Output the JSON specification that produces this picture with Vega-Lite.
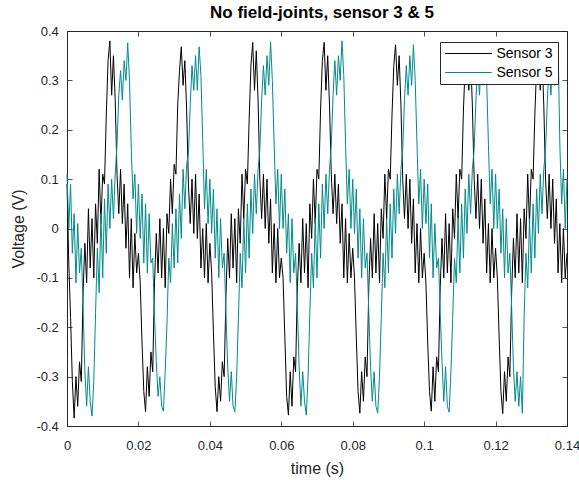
{
"$schema": "https://vega.github.io/schema/vega-lite/v6.json",
"width": 500, "height": 395,
"autosize": {"type": "none"},
"padding": {"left": 67, "top": 31, "right": 12, "bottom": 54},
"background": "white",
"title": {"text": "No field-joints, sensor 3 & 5", "fontSize": 17, "fontWeight": "bold", "font": "Liberation Sans", "color": "#000000", "anchor": "middle", "baseline": "alphabetic", "offset": 8, "dx": 5, "dy": 18},
"data": {"values": [
{"t":0,"s3":0.09,"s5":0.11},
{"t":0.0005,"s3":-0.07,"s5":0.00},
{"t":0.001,"s3":-0.18,"s5":0.09},
{"t":0.0015,"s3":-0.31,"s5":-0.05},
{"t":0.002,"s3":-0.384,"s5":0.03},
{"t":0.0025,"s3":-0.30,"s5":-0.11},
{"t":0.003,"s3":-0.36,"s5":0.01},
{"t":0.0035,"s3":-0.27,"s5":-0.09},
{"t":0.004,"s3":-0.31,"s5":-0.04},
{"t":0.0045,"s3":-0.13,"s5":-0.16},
{"t":0.005,"s3":-0.03,"s5":-0.29},
{"t":0.0055,"s3":-0.11,"s5":-0.36},
{"t":0.006,"s3":0.04,"s5":-0.28},
{"t":0.0065,"s3":-0.08,"s5":-0.35},
{"t":0.007,"s3":0.02,"s5":-0.38},
{"t":0.0075,"s3":-0.10,"s5":-0.31},
{"t":0.008,"s3":0.05,"s5":-0.17},
{"t":0.0085,"s3":-0.03,"s5":-0.04},
{"t":0.009,"s3":0.12,"s5":-0.13},
{"t":0.0095,"s3":0.01,"s5":0.03},
{"t":0.01,"s3":0.11,"s5":-0.10},
{"t":0.0105,"s3":0.09,"s5":0.06},
{"t":0.011,"s3":0.23,"s5":-0.05},
{"t":0.0115,"s3":0.34,"s5":0.09},
{"t":0.012,"s3":0.38,"s5":0.00},
{"t":0.0125,"s3":0.27,"s5":0.10},
{"t":0.013,"s3":0.35,"s5":0.02},
{"t":0.0135,"s3":0.26,"s5":0.11},
{"t":0.014,"s3":0.11,"s5":0.17},
{"t":0.0145,"s3":0.03,"s5":0.27},
{"t":0.015,"s3":0.12,"s5":0.32},
{"t":0.0155,"s3":0.01,"s5":0.26},
{"t":0.016,"s3":0.09,"s5":0.34},
{"t":0.0165,"s3":-0.04,"s5":0.30},
{"t":0.017,"s3":0.05,"s5":0.376},
{"t":0.0175,"s3":-0.10,"s5":0.30},
{"t":0.018,"s3":0.02,"s5":0.16},
{"t":0.0185,"s3":-0.12,"s5":0.06},
{"t":0.019,"s3":-0.01,"s5":0.11},
{"t":0.0195,"s3":-0.09,"s5":-0.01},
{"t":0.02,"s3":-0.05,"s5":0.09},
{"t":0.0205,"s3":-0.11,"s5":-0.02},
{"t":0.021,"s3":-0.23,"s5":0.07},
{"t":0.0215,"s3":-0.33,"s5":-0.07},
{"t":0.022,"s3":-0.371,"s5":0.05},
{"t":0.0225,"s3":-0.28,"s5":-0.09},
{"t":0.023,"s3":-0.34,"s5":0.03},
{"t":0.0235,"s3":-0.25,"s5":-0.07},
{"t":0.024,"s3":-0.29,"s5":-0.06},
{"t":0.0245,"s3":-0.11,"s5":-0.18},
{"t":0.025,"s3":-0.01,"s5":-0.27},
{"t":0.0255,"s3":-0.09,"s5":-0.34},
{"t":0.026,"s3":0.02,"s5":-0.30},
{"t":0.0265,"s3":-0.10,"s5":-0.36},
{"t":0.027,"s3":0.00,"s5":-0.37},
{"t":0.0275,"s3":-0.12,"s5":-0.29},
{"t":0.028,"s3":0.03,"s5":-0.19},
{"t":0.0285,"s3":-0.01,"s5":-0.06},
{"t":0.029,"s3":0.10,"s5":-0.11},
{"t":0.0295,"s3":0.03,"s5":0.01},
{"t":0.03,"s3":0.13,"s5":-0.08},
{"t":0.0305,"s3":0.11,"s5":0.04},
{"t":0.031,"s3":0.25,"s5":-0.07},
{"t":0.0315,"s3":0.32,"s5":0.07},
{"t":0.032,"s3":0.368,"s5":-0.02},
{"t":0.0325,"s3":0.29,"s5":0.12},
{"t":0.033,"s3":0.34,"s5":0.04},
{"t":0.0335,"s3":0.24,"s5":0.13},
{"t":0.034,"s3":0.09,"s5":0.15},
{"t":0.0345,"s3":0.01,"s5":0.25},
{"t":0.035,"s3":0.10,"s5":0.33},
{"t":0.0355,"s3":-0.01,"s5":0.28},
{"t":0.036,"s3":0.11,"s5":0.35},
{"t":0.0365,"s3":-0.02,"s5":0.28},
{"t":0.037,"s3":0.07,"s5":0.368},
{"t":0.0375,"s3":-0.08,"s5":0.31},
{"t":0.038,"s3":0.00,"s5":0.18},
{"t":0.0385,"s3":-0.10,"s5":0.04},
{"t":0.039,"s3":0.01,"s5":0.12},
{"t":0.0395,"s3":-0.11,"s5":0.01},
{"t":0.04,"s3":-0.03,"s5":0.10},
{"t":0.0405,"s3":-0.09,"s5":-0.01},
{"t":0.041,"s3":-0.21,"s5":0.08},
{"t":0.0415,"s3":-0.32,"s5":-0.06},
{"t":0.042,"s3":-0.371,"s5":0.04},
{"t":0.0425,"s3":-0.30,"s5":-0.10},
{"t":0.043,"s3":-0.35,"s5":0.02},
{"t":0.0435,"s3":-0.27,"s5":-0.08},
{"t":0.044,"s3":-0.30,"s5":-0.05},
{"t":0.0445,"s3":-0.14,"s5":-0.17},
{"t":0.045,"s3":-0.02,"s5":-0.28},
{"t":0.0455,"s3":-0.10,"s5":-0.35},
{"t":0.046,"s3":0.03,"s5":-0.29},
{"t":0.0465,"s3":-0.08,"s5":-0.36},
{"t":0.047,"s3":0.02,"s5":-0.371},
{"t":0.0475,"s3":-0.11,"s5":-0.30},
{"t":0.048,"s3":0.04,"s5":-0.18},
{"t":0.0485,"s3":-0.03,"s5":-0.05},
{"t":0.049,"s3":0.11,"s5":-0.12},
{"t":0.0495,"s3":0.02,"s5":0.02},
{"t":0.05,"s3":0.12,"s5":-0.09},
{"t":0.0505,"s3":0.09,"s5":0.05},
{"t":0.051,"s3":0.22,"s5":-0.06},
{"t":0.0515,"s3":0.33,"s5":0.08},
{"t":0.052,"s3":0.377,"s5":-0.01},
{"t":0.0525,"s3":0.28,"s5":0.11},
{"t":0.053,"s3":0.36,"s5":0.03},
{"t":0.0535,"s3":0.26,"s5":0.12},
{"t":0.054,"s3":0.10,"s5":0.16},
{"t":0.0545,"s3":0.02,"s5":0.26},
{"t":0.055,"s3":0.11,"s5":0.33},
{"t":0.0555,"s3":0.00,"s5":0.27},
{"t":0.056,"s3":0.10,"s5":0.35},
{"t":0.0565,"s3":-0.03,"s5":0.29},
{"t":0.057,"s3":0.06,"s5":0.378},
{"t":0.0575,"s3":-0.09,"s5":0.30},
{"t":0.058,"s3":0.01,"s5":0.17},
{"t":0.0585,"s3":-0.11,"s5":0.05},
{"t":0.059,"s3":0.00,"s5":0.12},
{"t":0.0595,"s3":-0.10,"s5":0.00},
{"t":0.06,"s3":-0.06,"s5":0.11},
{"t":0.0605,"s3":-0.10,"s5":0.00},
{"t":0.061,"s3":-0.22,"s5":0.08},
{"t":0.0615,"s3":-0.34,"s5":-0.05},
{"t":0.062,"s3":-0.378,"s5":0.03},
{"t":0.0625,"s3":-0.29,"s5":-0.11},
{"t":0.063,"s3":-0.36,"s5":0.02},
{"t":0.0635,"s3":-0.26,"s5":-0.09},
{"t":0.064,"s3":-0.29,"s5":-0.05},
{"t":0.0645,"s3":-0.12,"s5":-0.16},
{"t":0.065,"s3":-0.03,"s5":-0.28},
{"t":0.0655,"s3":-0.11,"s5":-0.36},
{"t":0.066,"s3":0.02,"s5":-0.29},
{"t":0.0665,"s3":-0.09,"s5":-0.35},
{"t":0.067,"s3":0.01,"s5":-0.378},
{"t":0.0675,"s3":-0.12,"s5":-0.30},
{"t":0.068,"s3":0.05,"s5":-0.17},
{"t":0.0685,"s3":-0.02,"s5":-0.05},
{"t":0.069,"s3":0.10,"s5":-0.12},
{"t":0.0695,"s3":0.01,"s5":0.02},
{"t":0.07,"s3":0.12,"s5":-0.10},
{"t":0.0705,"s3":0.10,"s5":0.05},
{"t":0.071,"s3":0.24,"s5":-0.06},
{"t":0.0715,"s3":0.34,"s5":0.09},
{"t":0.072,"s3":0.377,"s5":0.00},
{"t":0.0725,"s3":0.28,"s5":0.11},
{"t":0.073,"s3":0.35,"s5":0.03},
{"t":0.0735,"s3":0.25,"s5":0.12},
{"t":0.074,"s3":0.11,"s5":0.17},
{"t":0.0745,"s3":0.03,"s5":0.27},
{"t":0.075,"s3":0.11,"s5":0.34},
{"t":0.0755,"s3":0.01,"s5":0.27},
{"t":0.076,"s3":0.09,"s5":0.35},
{"t":0.0765,"s3":-0.03,"s5":0.30},
{"t":0.077,"s3":0.05,"s5":0.38},
{"t":0.0775,"s3":-0.10,"s5":0.31},
{"t":0.078,"s3":0.02,"s5":0.17},
{"t":0.0785,"s3":-0.11,"s5":0.05},
{"t":0.079,"s3":-0.01,"s5":0.12},
{"t":0.0795,"s3":-0.10,"s5":0.00},
{"t":0.08,"s3":-0.04,"s5":0.10},
{"t":0.0805,"s3":-0.10,"s5":-0.01},
{"t":0.081,"s3":-0.22,"s5":0.08},
{"t":0.0815,"s3":-0.33,"s5":-0.06},
{"t":0.082,"s3":-0.374,"s5":0.04},
{"t":0.0825,"s3":-0.29,"s5":-0.10},
{"t":0.083,"s3":-0.35,"s5":0.02},
{"t":0.0835,"s3":-0.26,"s5":-0.08},
{"t":0.084,"s3":-0.30,"s5":-0.05},
{"t":0.0845,"s3":-0.12,"s5":-0.17},
{"t":0.085,"s3":-0.02,"s5":-0.28},
{"t":0.0855,"s3":-0.10,"s5":-0.35},
{"t":0.086,"s3":0.03,"s5":-0.29},
{"t":0.0865,"s3":-0.09,"s5":-0.36},
{"t":0.087,"s3":0.01,"s5":-0.374},
{"t":0.0875,"s3":-0.11,"s5":-0.30},
{"t":0.088,"s3":0.04,"s5":-0.18},
{"t":0.0885,"s3":-0.02,"s5":-0.05},
{"t":0.089,"s3":0.11,"s5":-0.12},
{"t":0.0895,"s3":0.02,"s5":0.02},
{"t":0.09,"s3":0.12,"s5":-0.09},
{"t":0.0905,"s3":0.10,"s5":0.05},
{"t":0.091,"s3":0.23,"s5":-0.06},
{"t":0.0915,"s3":0.33,"s5":0.08},
{"t":0.092,"s3":0.372,"s5":-0.01},
{"t":0.0925,"s3":0.29,"s5":0.11},
{"t":0.093,"s3":0.35,"s5":0.03},
{"t":0.0935,"s3":0.25,"s5":0.12},
{"t":0.094,"s3":0.10,"s5":0.16},
{"t":0.0945,"s3":0.02,"s5":0.26},
{"t":0.095,"s3":0.11,"s5":0.33},
{"t":0.0955,"s3":0.00,"s5":0.27},
{"t":0.096,"s3":0.10,"s5":0.35},
{"t":0.0965,"s3":-0.03,"s5":0.29},
{"t":0.097,"s3":0.06,"s5":0.372},
{"t":0.0975,"s3":-0.09,"s5":0.30},
{"t":0.098,"s3":0.01,"s5":0.17},
{"t":0.0985,"s3":-0.11,"s5":0.05},
{"t":0.099,"s3":0.00,"s5":0.12},
{"t":0.0995,"s3":-0.10,"s5":0.00},
{"t":0.1,"s3":-0.05,"s5":0.10},
{"t":0.1005,"s3":-0.11,"s5":0.01},
{"t":0.101,"s3":-0.23,"s5":0.09},
{"t":0.1015,"s3":-0.33,"s5":-0.06},
{"t":0.102,"s3":-0.37,"s5":0.05},
{"t":0.1025,"s3":-0.28,"s5":-0.10},
{"t":0.103,"s3":-0.35,"s5":0.01},
{"t":0.1035,"s3":-0.26,"s5":-0.08},
{"t":0.104,"s3":-0.29,"s5":-0.06},
{"t":0.1045,"s3":-0.12,"s5":-0.17},
{"t":0.105,"s3":-0.02,"s5":-0.27},
{"t":0.1055,"s3":-0.10,"s5":-0.35},
{"t":0.106,"s3":0.03,"s5":-0.28},
{"t":0.1065,"s3":-0.09,"s5":-0.36},
{"t":0.107,"s3":0.01,"s5":-0.372},
{"t":0.1075,"s3":-0.11,"s5":-0.29},
{"t":0.108,"s3":0.04,"s5":-0.18},
{"t":0.1085,"s3":-0.02,"s5":-0.06},
{"t":0.109,"s3":0.11,"s5":-0.11},
{"t":0.1095,"s3":0.02,"s5":0.02},
{"t":0.11,"s3":0.12,"s5":-0.09},
{"t":0.1105,"s3":0.10,"s5":0.05},
{"t":0.111,"s3":0.24,"s5":-0.06},
{"t":0.1115,"s3":0.33,"s5":0.08},
{"t":0.112,"s3":0.37,"s5":-0.01},
{"t":0.1125,"s3":0.28,"s5":0.11},
{"t":0.113,"s3":0.35,"s5":0.03},
{"t":0.1135,"s3":0.25,"s5":0.12},
{"t":0.114,"s3":0.10,"s5":0.16},
{"t":0.1145,"s3":0.02,"s5":0.26},
{"t":0.115,"s3":0.11,"s5":0.33},
{"t":0.1155,"s3":0.00,"s5":0.27},
{"t":0.116,"s3":0.10,"s5":0.35},
{"t":0.1165,"s3":-0.03,"s5":0.29},
{"t":0.117,"s3":0.06,"s5":0.37},
{"t":0.1175,"s3":-0.09,"s5":0.30},
{"t":0.118,"s3":0.01,"s5":0.17},
{"t":0.1185,"s3":-0.11,"s5":0.05},
{"t":0.119,"s3":0.00,"s5":0.12},
{"t":0.1195,"s3":-0.10,"s5":0.00},
{"t":0.12,"s3":-0.04,"s5":0.11},
{"t":0.1205,"s3":-0.10,"s5":0.00},
{"t":0.121,"s3":-0.22,"s5":0.08},
{"t":0.1215,"s3":-0.33,"s5":-0.05},
{"t":0.122,"s3":-0.375,"s5":0.04},
{"t":0.1225,"s3":-0.29,"s5":-0.10},
{"t":0.123,"s3":-0.35,"s5":0.02},
{"t":0.1235,"s3":-0.26,"s5":-0.09},
{"t":0.124,"s3":-0.30,"s5":-0.05},
{"t":0.1245,"s3":-0.13,"s5":-0.16},
{"t":0.125,"s3":-0.02,"s5":-0.28},
{"t":0.1255,"s3":-0.10,"s5":-0.35},
{"t":0.126,"s3":0.03,"s5":-0.29},
{"t":0.1265,"s3":-0.09,"s5":-0.36},
{"t":0.127,"s3":0.02,"s5":-0.30},
{"t":0.1275,"s3":-0.11,"s5":-0.374},
{"t":0.128,"s3":0.04,"s5":-0.18},
{"t":0.1285,"s3":-0.02,"s5":-0.05},
{"t":0.129,"s3":0.11,"s5":-0.12},
{"t":0.1295,"s3":0.01,"s5":0.02},
{"t":0.13,"s3":0.12,"s5":-0.09},
{"t":0.1305,"s3":0.10,"s5":0.05},
{"t":0.131,"s3":0.23,"s5":-0.06},
{"t":0.1315,"s3":0.33,"s5":0.08},
{"t":0.132,"s3":0.37,"s5":-0.01},
{"t":0.1325,"s3":0.28,"s5":0.11},
{"t":0.133,"s3":0.35,"s5":0.03},
{"t":0.1335,"s3":0.25,"s5":0.12},
{"t":0.134,"s3":0.10,"s5":0.16},
{"t":0.1345,"s3":0.02,"s5":0.26},
{"t":0.135,"s3":0.11,"s5":0.33},
{"t":0.1355,"s3":0.00,"s5":0.27},
{"t":0.136,"s3":0.10,"s5":0.35},
{"t":0.1365,"s3":-0.03,"s5":0.29},
{"t":0.137,"s3":0.06,"s5":0.34},
{"t":0.1375,"s3":-0.09,"s5":0.375},
{"t":0.138,"s3":0.01,"s5":0.17},
{"t":0.1385,"s3":-0.11,"s5":0.05},
{"t":0.139,"s3":0.00,"s5":0.12},
{"t":0.1395,"s3":-0.10,"s5":0.00},
{"t":0.14,"s3":-0.05,"s5":0.10}
]},
"transform": [{"fold": ["s3", "s5"], "as": ["sensor", "v"]}],
"layer": [
{
"mark": {"type": "line", "strokeWidth": 1, "interpolate": "linear"},
"encoding": {
"x": {"field": "t", "type": "quantitative", "scale": {"domain": [0, 0.14], "nice": false, "zero": false},
"axis": {"orient": "bottom", "values": [0, 0.02, 0.04, 0.06, 0.08, 0.1, 0.12, 0.14], "labelExpr": "'' + datum.value", "title": "time (s)", "labelBaseline": "alphabetic", "labelPadding": 28.3, "titleBaseline": "alphabetic", "titleY": 47.3}},
"y": {"field": "v", "type": "quantitative", "scale": {"domain": [-0.4, 0.4], "nice": false, "zero": false},
"axis": {"orient": "left", "values": [-0.4, -0.3, -0.2, -0.1, 0, 0.1, 0.2, 0.3, 0.4], "labelExpr": "'' + datum.value", "title": "Voltage (V)", "labelPadding": 13.7, "titleBaseline": "alphabetic", "titleX": -43.7}},
"color": {"field": "sensor", "type": "nominal", "scale": {"domain": ["s3", "s5"], "range": ["#000000", "#008b8b"]},
"legend": {"title": null, "orient": "none", "legendX": 373, "legendY": 11, "symbolType": "stroke", "symbolSize": 2180, "symbolStrokeWidth": 1, "clipHeight": 14, "labelFontSize": 14, "labelFont": "Liberation Sans", "labelColor": "#000000", "labelOffset": 4, "rowPadding": 5, "padding": 4.5, "fillColor": "white", "strokeColor": "#262626", "labelExpr": "datum.label == 's3' ? 'Sensor 3' : 'Sensor 5'"}}
}
},
{
"mark": {"type": "point", "opacity": 0},
"encoding": {
"x": {"field": "t", "type": "quantitative", "scale": {"domain": [0, 0.14], "nice": false, "zero": false},
"axis": {"orient": "top", "values": [0, 0.02, 0.04, 0.06, 0.08, 0.1, 0.12, 0.14], "labels": false, "title": null}},
"y": {"field": "v", "type": "quantitative", "scale": {"domain": [-0.4, 0.4], "nice": false, "zero": false},
"axis": {"orient": "right", "values": [-0.4, -0.3, -0.2, -0.1, 0, 0.1, 0.2, 0.3, 0.4], "labels": false, "title": null}}
}
}
],
"resolve": {"axis": {"x": "independent", "y": "independent"}},
"config": {
"view": {"stroke": "#262626", "strokeWidth": 1},
"axis": {"grid": false, "domain": false, "tickColor": "#262626", "tickSize": -5, "tickWidth": 0.8, "labelColor": "#262626", "titleColor": "#262626", "labelFont": "Liberation Sans", "titleFont": "Liberation Sans", "labelFontSize": 13, "titleFontSize": 16, "titleFontWeight": "normal", "labelFlush": false, "labelOverlap": false}
}
}
